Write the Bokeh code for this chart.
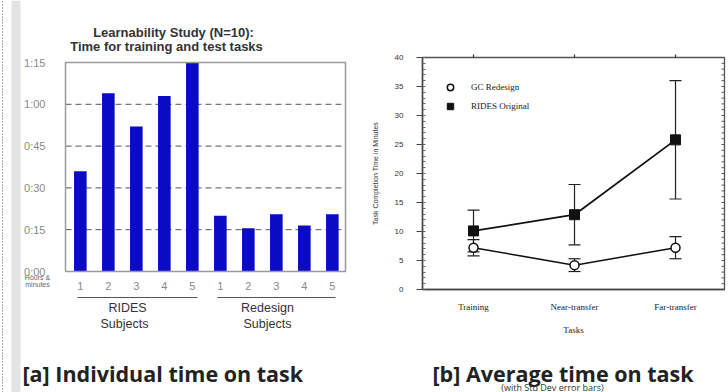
from bokeh.plotting import figure
from bokeh.models import (FixedTicker, Label, Arrow, Whisker, TeeHead, ColumnDataSource,
                          Legend, LegendItem, Range1d, LinearAxis, BoxAnnotation)
from bokeh.layouts import row
from bokeh.embed import file_html
from bokeh.resources import INLINE

# ---------------- data ----------------
subject_labels = ["1", "2", "3", "4", "5"]
rides_minutes = [36, 64, 52, 63, 75]
redesign_minutes = [20, 15.5, 20.5, 16.5, 20.5]
time_ticks = [0, 15, 30, 45, 60, 75]
time_tick_labels = ["0:00", "0:15", "0:30", "0:45", "1:00", "1:15"]

tasks = ["Training", "Near-transfer", "Far-transfer"]
gc_mean = [7.2, 4.2, 7.2]
gc_sd = [1.4, 1.1, 1.9]
rides_mean = [10.1, 12.9, 25.8]
rides_sd = [3.6, 5.2, 10.2]
b_ticks = [0, 5, 10, 15, 20, 25, 30, 35, 40]

# ---------------- layout (pixels) ----------------
W1, W2, H = 370, 358, 392
A_BOX = (65, 345, 62, 271)      # left, right, top, bottom of chart a's plot box
B_BOX = (52, 354, 57, 289)      # same for chart b (inside its own canvas)
A_XDOM, A_YDOM = (0.47, 10.47), (0, 75)
B_XDOM, B_YDOM = (0.495, 3.485), (0, 40)


def full_ranges(W, box, xdom, ydom):
    l, r, t, b = box
    kx = (r - l) / (xdom[1] - xdom[0])
    ky = (b - t) / (ydom[1] - ydom[0])
    xr = Range1d(xdom[0] - l / kx, xdom[1] + (W - r) / kx)
    yr = Range1d(ydom[0] - (H - b) / ky, ydom[1] + t / ky)
    return xr, yr, kx, ky


def lab(p, x, y, text, size, color="#222222", font="Liberation Sans", style="normal",
        align="center", baseline="middle"):
    p.add_layout(Label(x=x, y=y, x_units="screen", y_units="screen", text=text,
                       text_font_size=f"{size}px", text_color=color, text_font=font,
                       text_font_style=style, text_align=align, text_baseline=baseline))


def sy(ry):
    return H - ry


# ---------------- chart a ----------------
xr1, yr1, kx1, ky1 = full_ranges(W1, A_BOX, A_XDOM, A_YDOM)
p1 = figure(width=W1, height=H, x_range=xr1, y_range=yr1, output_backend="svg",
            toolbar_location=None, title=None, min_border=0,
            x_axis_location=None, y_axis_location=None)
p1.grid.visible = False
p1.outline_line_color = None

# page-edge decoration at the far left
p1.add_layout(BoxAnnotation(left=11, right=20, left_units="screen", right_units="screen",
                            fill_color="#e4e4e4", fill_alpha=1, line_color=None))
p1.add_layout(Arrow(x_start=2, x_end=2, y_start=0, y_end=H, start_units="screen",
                    end_units="screen", start=None, end=None, line_color="#555555",
                    line_width=1, line_dash="1 2"))

n = len(subject_labels)
xs = list(range(1, 2 * n + 1))
values = rides_minutes + redesign_minutes
inner = [t for t in time_ticks if A_YDOM[0] < t < A_YDOM[1]]
p1.segment(x0=[A_XDOM[0]] * len(inner), y0=inner, x1=[A_XDOM[1]] * len(inner), y1=inner,
           line_color="#555555", line_dash="6 4", line_width=1)
p1.vbar(x=xs, top=values, width=0.45, fill_color="#0b0bc6", line_color=None)
p1.quad(left=[A_XDOM[0]], right=[A_XDOM[1]], bottom=[A_YDOM[0]], top=[A_YDOM[1]],
        fill_color=None, line_color="#9a9a9a", line_width=1.5)

ya = LinearAxis(fixed_location=A_XDOM[0], bounds=A_YDOM, ticker=FixedTicker(ticks=time_ticks),
                major_label_overrides={t: s for t, s in zip(time_ticks, time_tick_labels)},
                axis_line_color=None, major_tick_line_color=None, minor_tick_line_color=None,
                major_label_standoff=14, major_label_text_font="Liberation Sans",
                major_label_text_font_size="11px", major_label_text_color="#8a8a8a")
p1.add_layout(ya, "left")
xa = LinearAxis(fixed_location=A_YDOM[0], bounds=A_XDOM, ticker=FixedTicker(ticks=xs),
                major_label_overrides={x: s for x, s in zip(xs, subject_labels + subject_labels)},
                axis_line_color=None, major_tick_line_color=None, minor_tick_line_color=None,
                major_label_standoff=4, major_label_text_font="Liberation Sans",
                major_label_text_font_size="11px", major_label_text_color="#8a8a8a")
p1.add_layout(xa, "below")

lab(p1, 173, sy(32), "Learnability Study (N=10):", 13, color="#333333", style="bold")
lab(p1, 166, sy(46), "Time for training and test tasks", 13, color="#333333", style="bold")
lab(p1, 37, sy(277), "Hours &", 7, color="#666666")
lab(p1, 37, sy(284), "minutes", 7, color="#666666")
for (a, b) in [(77, 197), (217, 335)]:
    p1.add_layout(Arrow(x_start=a, x_end=b, y_start=sy(297), y_end=sy(297),
                        start_units="screen", end_units="screen", start=None, end=None,
                        line_color="#555555", line_width=1))
lab(p1, 127, sy(307), "RIDES", 12.5, color="#333333")
lab(p1, 124, sy(323), "Subjects", 12.5, color="#333333")
lab(p1, 267, sy(307), "Redesign", 12.5, color="#333333")
lab(p1, 267, sy(323), "Subjects", 12.5, color="#333333")
lab(p1, 22, sy(373), "[a] Individual time on task", 21.5, color="#222222",
    font="Open Sans", style="bold", align="left", baseline="middle")

# ---------------- chart b ----------------
xr2, yr2, kx2, ky2 = full_ranges(W2, B_BOX, B_XDOM, B_YDOM)
p2 = figure(width=W2, height=H, x_range=xr2, y_range=yr2, output_backend="svg",
            toolbar_location=None, title=None, min_border=0,
            x_axis_location=None, y_axis_location=None)
p2.grid.visible = False
p2.outline_line_color = None

pos = [i + 1 for i in range(len(tasks))]
gc_src = ColumnDataSource(dict(x=pos, y=gc_mean,
                               lo=[m - s for m, s in zip(gc_mean, gc_sd)],
                               hi=[m + s for m, s in zip(gc_mean, gc_sd)]))
rd_src = ColumnDataSource(dict(x=pos, y=rides_mean,
                               lo=[m - s for m, s in zip(rides_mean, rides_sd)],
                               hi=[m + s for m, s in zip(rides_mean, rides_sd)]))

# plot box, top tick marks and right-edge inner ticks
p2.quad(left=[B_XDOM[0]], right=[B_XDOM[1]], bottom=[B_YDOM[0]], top=[B_YDOM[1]],
        fill_color=None, line_color="#555555", line_width=1.3)
p2.segment(x0=pos, y0=[B_YDOM[1]] * len(pos), x1=pos, y1=[B_YDOM[1] + 3 / ky2] * len(pos),
           line_color="#333333", line_width=1.2)
minor = list(range(int(B_YDOM[0]) + 1, int(B_YDOM[1])))
p2.segment(x0=[B_XDOM[1] - 3 / kx2] * len(minor), y0=minor, x1=[B_XDOM[1]] * len(minor),
           y1=minor, line_color="#555555", line_width=1)

for src in (rd_src, gc_src):
    p2.add_layout(Whisker(source=src, base="x", upper="hi", lower="lo", line_color="#222222",
                          line_width=1.2,
                          upper_head=TeeHead(size=12, line_color="#222222", line_width=1.2),
                          lower_head=TeeHead(size=12, line_color="#222222", line_width=1.2)))
p2.line("x", "y", source=rd_src, line_color="#111111", line_width=1.8)
p2.line("x", "y", source=gc_src, line_color="#111111", line_width=1.5)
r_rd = p2.scatter("x", "y", source=rd_src, marker="square", size=10, fill_color="#111111",
                  line_color="#111111")
r_gc = p2.scatter("x", "y", source=gc_src, marker="circle", size=9, fill_color="white",
                  line_color="#111111", line_width=1.5)

yb = LinearAxis(fixed_location=B_XDOM[0], bounds=B_YDOM,
                ticker=FixedTicker(ticks=b_ticks, minor_ticks=list(range(0, 41))),
                axis_line_color="#444444", axis_line_width=1.5,
                major_tick_out=6, major_tick_in=0, minor_tick_out=0, minor_tick_in=3,
                major_tick_line_color="#444444", minor_tick_line_color="#666666",
                major_label_standoff=13, major_label_text_font="Liberation Sans",
                major_label_text_font_size="8px", major_label_text_color="#333333",
                axis_label="Task Completion Time in Minutes", axis_label_text_font="Liberation Sans",
                axis_label_text_font_style="normal", axis_label_text_font_size="7px",
                axis_label_text_color="#333333", axis_label_standoff=13)
p2.add_layout(yb, "left")
xb = LinearAxis(fixed_location=B_YDOM[0], bounds=B_XDOM, ticker=FixedTicker(ticks=pos),
                major_label_overrides={x: s for x, s in zip(pos, tasks)},
                axis_line_color="#444444", axis_line_width=1.5,
                major_tick_out=0, major_tick_in=0, minor_tick_line_color=None,
                major_label_standoff=12, major_label_text_font="Liberation Serif",
                major_label_text_font_size="9px", major_label_text_color="#222222",
                axis_label="Tasks", axis_label_text_font="Liberation Serif",
                axis_label_text_font_style="normal", axis_label_text_font_size="9px",
                axis_label_text_color="#222222", axis_label_standoff=10)
p2.add_layout(xb, "below")

legend = Legend(items=[LegendItem(label="GC Redesign", renderers=[r_gc]),
                       LegendItem(label="RIDES Original", renderers=[r_rd])],
                location=(70, 278), margin=0, padding=0, spacing=3,
                glyph_width=20, glyph_height=16, label_height=16, label_standoff=11,
                label_text_font="Liberation Serif", label_text_font_size="9px",
                label_text_color="#222222", border_line_color=None, background_fill_alpha=0)
p2.add_layout(legend)

lab(p2, 432 - 370, sy(373), "[b] Average time on task", 21.5, color="#222222",
    font="Open Sans", style="bold", align="left", baseline="middle")
lab(p2, 552 - 370, sy(386.5), "(with Std Dev error bars)", 9, color="#333333",
    font="Open Sans", baseline="middle")

layout = row(p1, p2, spacing=0)
open("out.html", "w").write(file_html(layout, INLINE))
